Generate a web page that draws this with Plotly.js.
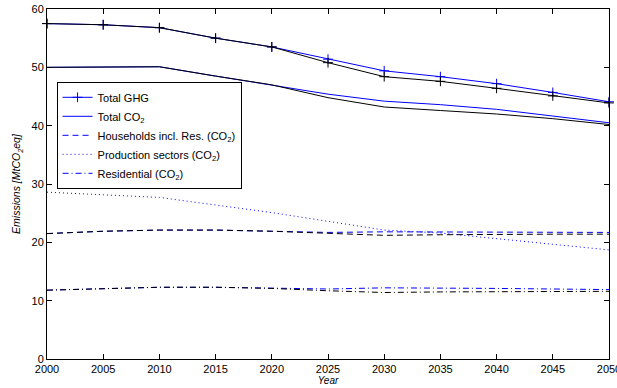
<!DOCTYPE html>
<html>
<head>
<meta charset="utf-8">
<script src="https://cdn.plot.ly/plotly-3.0.1.min.js"></script>
<style>html,body{margin:0;padding:0;background:#fff;}</style>
</head>
<body>
<div id="chart" style="width:617px;height:388px;"></div>
<script>
const years = [2000, 2005, 2010, 2015, 2020, 2025, 2030, 2035, 2040, 2045, 2050];
// Blue scenario
const ghgBlue  = [57.5, 57.3, 56.8, 55.0, 53.5, 51.4, 49.4, 48.4, 47.2, 45.7, 44.1];
const co2Blue  = [50.0, 50.0, 50.1, 48.5, 47.0, 45.4, 44.2, 43.6, 42.8, 41.6, 40.5];
const hhBlue   = [21.5, 21.9, 22.1, 22.1, 21.9, 21.7, 21.8, 21.8, 21.8, 21.8, 21.7];
const prodBlue = [28.6, 28.1, 27.7, 26.4, 25.1, 23.6, 22.1, 21.6, 20.6, 19.7, 18.7];
const resBlue  = [11.8, 12.1, 12.3, 12.3, 12.1, 12.0, 12.2, 12.2, 12.1, 12.0, 11.9];
// Black scenario
const ghgBlack = [57.5, 57.3, 56.8, 55.0, 53.5, 50.8, 48.4, 47.6, 46.4, 45.1, 43.9];
const co2Black = [50.0, 50.0, 50.1, 48.5, 47.0, 44.8, 43.2, 42.6, 42.0, 41.2, 40.2];
const hhBlack  = [21.5, 21.9, 22.1, 22.1, 21.9, 21.5, 21.2, 21.3, 21.4, 21.4, 21.4];
const resBlack = [11.8, 12.1, 12.3, 12.3, 12.1, 11.7, 11.4, 11.5, 11.5, 11.6, 11.6];

const xTicks = [2000, 2005, 2010, 2015, 2020, 2025, 2030, 2035, 2040, 2045, 2050];
const yTicks = [0, 10, 20, 30, 40, 50, 60];

const labels = ['Total GHG', 'Total CO<sub>2</sub>', 'Households incl. Res. (CO<sub>2</sub>)',
                'Production sectors (CO<sub>2</sub>)', 'Residential (CO<sub>2</sub>)'];

const BLUE = 'rgb(0,0,255)', BLACK = 'rgb(0,0,0)';
const DASH = '6px,4px', DOT = '1px,3px', DASHDOT = '6px,3px,1px,3px';

function tr(y, name, color, dash, show, marker) {
  const t = {x: years, y: y, name: name, type: 'scatter', showlegend: show,
    mode: marker ? 'lines+markers' : 'lines', cliponaxis: false,
    line: {color: color, width: 1, dash: dash}, hoverinfo: 'skip'};
  if (marker) t.marker = {symbol: 'cross-thin', size: 7, line: {color: color, width: 1}, color: color};
  return t;
}

const data = [
  tr(ghgBlue, labels[0], BLUE, 'solid', true, true),
  tr(co2Blue, labels[1], BLUE, 'solid', true, false),
  tr(hhBlue, labels[2], BLUE, DASH, true, false),
  tr(prodBlue, labels[3], BLUE, DOT, true, false),
  tr(resBlue, labels[4], BLUE, DASHDOT, true, false),
  tr(ghgBlack, labels[0], BLACK, 'solid', false, true),
  tr(co2Black, labels[1], BLACK, 'solid', false, false),
  tr(hhBlack, labels[2], BLACK, DASH, false, false),
  tr(resBlack, labels[4], BLACK, DASHDOT, false, false)
];

const axisCommon = {
  showline: true, linecolor: 'black', linewidth: 1, mirror: 'ticks',
  ticks: 'inside', ticklen: 5, tickcolor: 'black', tickwidth: 1,
  showgrid: false, zeroline: false, ticklabeloverflow: 'allow',
  tickfont: {family: 'Liberation Sans, Arial', size: 11, color: 'black'}
};

const layout = {
  width: 617, height: 388,
  margin: {l: 47, r: 8, t: 9, b: 29},
  paper_bgcolor: 'white', plot_bgcolor: 'white',
  font: {family: 'Liberation Sans, Arial', color: 'black'},
  xaxis: Object.assign({}, axisCommon, {
    range: [2000, 2050], tickvals: xTicks, ticktext: xTicks.map(String),
    ticklabelstandoff: 0,
    title: {text: '<i>Year</i>', font: {size: 10}, standoff: 0}
  }),
  yaxis: Object.assign({}, axisCommon, {
    range: [0, 60], tickvals: yTicks,
    title: {text: '<i>Emissions [MtCO<sub>2</sub>eq]</i>', font: {size: 10.5}, standoff: 8}
  }),
  legend: {
    x: 0.017, y: 0.792, xanchor: 'left', yanchor: 'top',
    bgcolor: 'white', bordercolor: 'black', borderwidth: 1,
    font: {size: 11, color: 'black'}, itemwidth: 30, tracegroupgap: 0
  },
  showlegend: true
};

Plotly.newPlot('chart', data, layout, {displayModeBar: false, staticPlot: true});
</script>
</body>
</html>
